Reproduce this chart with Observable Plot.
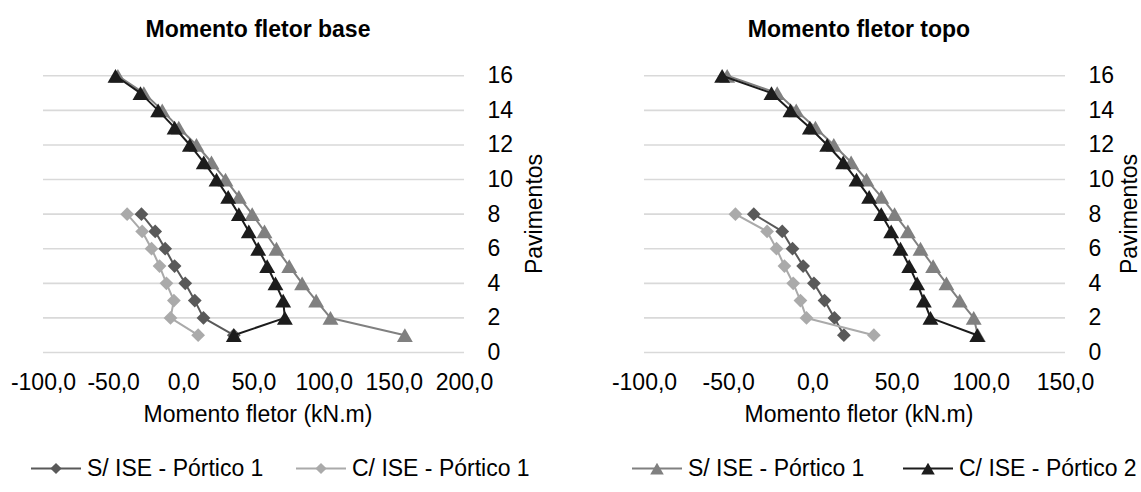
<!DOCTYPE html>
<html><head><meta charset="utf-8">
<script src="https://cdn.jsdelivr.net/npm/d3@7"></script>
<script src="https://cdn.jsdelivr.net/npm/@observablehq/plot@0.6"></script>
<style>
body{margin:0;background:#fff;}
#root{position:relative;width:1141px;height:492px;overflow:hidden;font-family:"Liberation Sans",Arial,sans-serif;color:#000;background:#fff;}
.abs{position:absolute;white-space:nowrap;line-height:1;}
.title{font-weight:bold;font-size:23px;transform:translate(-50%,-50%);}
.lab{font-size:23px;transform:translate(-50%,-50%);}
.ylab{font-size:23px;transform:translate(-50%,-50%) rotate(-90deg);}
.leg{font-size:23px;display:flex;align-items:center;transform:translateY(-50%);}
.leg svg{display:block;margin-right:6px;}
</style></head><body><div id="root"></div>
<script>
// ---- data ----
const floorsTri = [1,2,3,4,5,6,7,8,9,10,11,12,13,14,15,16];
const floorsDia = [1,2,3,4,5,6,7,8];
const seriesNames = ["S/ ISE - Pórtico 1","C/ ISE - Pórtico 1","S/ ISE - Pórtico 1","C/ ISE - Pórtico 2"];
const seriesColors = ["#595959","#aaaaaa","#808080","#1c1c1c"];
const seriesSymbols = ["diamond2","diamond2","triangle","triangle"];
// Momento fletor base
const baseDiaS = [35.6, 14.0, 7.8, 1.0, -6.6, -13.3, -20.4, -30.2];
const baseDiaC = [10.2, -9.5, -7.1, -12.4, -17.3, -23.0, -29.7, -40.4];
const baseTriS = [157.5, 104.5, 94.3, 84.3, 75.1, 66.0, 57.5, 48.7, 39.2, 29.7, 19.7, 9.0, -3.6, -15.4, -28.5, -47.0];
const baseTriC = [35.6, 72.0, 70.8, 65.3, 59.4, 53.0, 46.3, 39.2, 31.6, 23.3, 14.2, 4.3, -6.6, -18.3, -30.9, -48.7];
// Momento fletor topo
const topDiaS = [18.4, 12.8, 6.9, 0.6, -5.8, -12.1, -18.2, -35.1];
const topDiaC = [36.2, -3.8, -7.4, -11.7, -16.9, -21.6, -27.2, -46.0];
const topTriS = [98.0, 95.5, 87.2, 79.3, 71.4, 63.9, 56.4, 48.5, 40.6, 31.8, 22.7, 12.4, 1.5, -9.9, -21.2, -50.9];
const topTriC = [97.6, 69.8, 65.9, 61.9, 57.2, 52.0, 46.5, 40.6, 33.4, 25.9, 18.0, 8.5, -1.8, -13.3, -24.6, -53.9];
// axes
const baseXTicks = [-100,-50,0,50,100,150,200];
const topXTicks = [-100,-50,0,50,100,150];
const yTicks = [0,2,4,6,8,10,12,14,16];
const chartTitles = ["Momento fletor base","Momento fletor topo"];
const xLabel = "Momento fletor (kN.m)";
const yLabel = "Pavimentos";

const fmt = d => d.toFixed(1).replace(".", ",");
const rows = (vals, floors) => vals.map((v,i)=>({x:v, y:floors[i]}));

function chart(seriesVals, xTicks, mLeft, mRight, width){
  const marks = [
    Plot.ruleY(yTicks, {stroke:"#d9d9d9", strokeWidth:1.6}),
    Plot.axisX({anchor:"bottom", ticks:xTicks, tickSize:0, tickPadding:21, tickFormat:fmt, label:null}),
    Plot.axisY({anchor:"right", ticks:yTicks, tickSize:0, tickPadding:23, label:null})
  ];
  seriesVals.forEach((vals,i)=>{
    const floors = vals.length === 8 ? floorsDia : floorsTri;
    const d = rows(vals, floors);
    const tri = seriesSymbols[i] === "triangle";
    marks.push(Plot.line(d, {x:"x", y:"y", stroke:seriesColors[i], strokeWidth:2}));
    marks.push(Plot.dot(d, {x:"x", y:"y", symbol:seriesSymbols[i], r: tri ? 5.9 : 6.2, fill:seriesColors[i], stroke:"none", dy: tri ? 2.3 : 0}));
  });
  return Plot.plot({
    width, height:370,
    marginLeft:mLeft, marginRight:mRight, marginTop:25.3, marginBottom:68,
    x:{domain:[xTicks[0], xTicks[xTicks.length-1]]},
    y:{domain:[0,16]},
    style:{fontSize:"23px", fontFamily:"'Liberation Sans', Arial, sans-serif", color:"#000", background:"#fff", overflow:"visible"},
    marks
  });
}

const root = document.getElementById("root");
function place(el, left, top){ el.style.left = left+"px"; el.style.top = top+"px"; root.appendChild(el); }
function div(cls, text){ const e=document.createElement("div"); e.className="abs "+cls; e.textContent=text; return e; }

const c1 = chart([baseDiaS, baseDiaC, baseTriS, baseTriC], baseXTicks, 43, 106, 570);
c1.style.position="absolute"; place(c1, 0, 50);
const c2 = chart([topDiaS, topDiaC, topTriS, topTriC], topXTicks, 74, 76, 571);
c2.style.position="absolute"; place(c2, 570, 50);

place(div("title", chartTitles[0]), 258, 29);
place(div("title", chartTitles[1]), 859, 29);
place(div("lab", xLabel), 258, 414);
place(div("lab", xLabel), 859, 414);
place(div("ylab", yLabel), 534, 214);
place(div("ylab", yLabel), 1129, 214);

function legendItem(i){
  const e = document.createElement("div"); e.className="abs leg";
  const ns="http://www.w3.org/2000/svg";
  const s = document.createElementNS(ns,"svg"); s.setAttribute("width","50"); s.setAttribute("height","20");
  const l = document.createElementNS(ns,"line");
  l.setAttribute("x1","0");l.setAttribute("x2","50");l.setAttribute("y1","10");l.setAttribute("y2","10");
  l.setAttribute("stroke",seriesColors[i]);l.setAttribute("stroke-width","2");
  s.appendChild(l);
  const p = document.createElementNS(ns,"path");
  const sym = seriesSymbols[i]==="triangle" ? d3.symbol(d3.symbolTriangle, 80)() : d3.symbol(d3.symbolDiamond2, 80)();
  p.setAttribute("d", sym); p.setAttribute("fill", seriesColors[i]);
  p.setAttribute("transform", seriesSymbols[i]==="triangle" ? "translate(25,12)" : "translate(25,10)");
  s.appendChild(p);
  e.appendChild(s);
  const t = document.createElement("span"); t.textContent = seriesNames[i]; e.appendChild(t);
  return e;
}
place(legendItem(0), 31, 468);
place(legendItem(1), 296, 468);
place(legendItem(2), 632, 468);
place(legendItem(3), 903, 468);
</script>
</body></html>
